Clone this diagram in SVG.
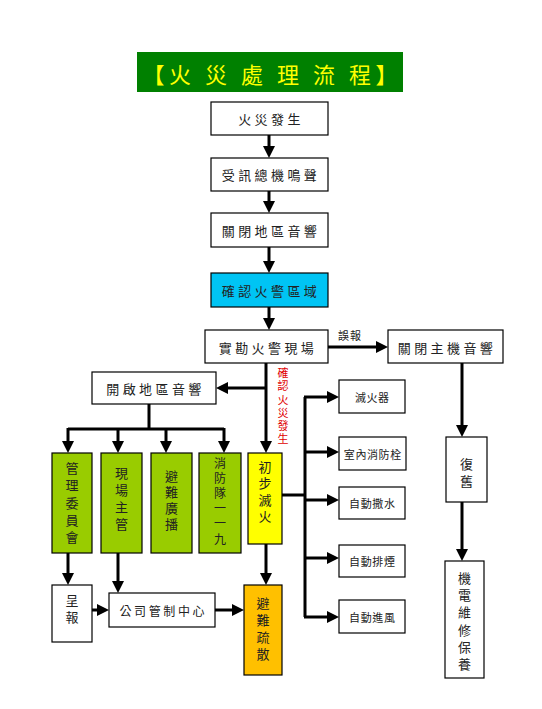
<svg xmlns="http://www.w3.org/2000/svg" width="542" height="709" viewBox="0 0 542 709">
<defs>
<marker id="ah" markerUnits="userSpaceOnUse" markerWidth="12" markerHeight="12" refX="6" refY="6" orient="auto">
<path d="M0,0 L12,6 L0,12 z" fill="#000"/>
</marker>
</defs>
<style>
.box{fill:#fff;stroke:#000;stroke-width:1.2}
.g{fill:#99CC00;stroke:#000;stroke-width:1.2}
.t{font-family:"Noto Sans CJK TC","Noto Sans CJK SC",sans-serif;font-size:13px;fill:#222;text-anchor:middle;dominant-baseline:central;letter-spacing:3.4px}
.s{font-family:"Noto Sans CJK TC","Noto Sans CJK SC",sans-serif;font-size:11px;fill:#222;text-anchor:middle;dominant-baseline:central;letter-spacing:0.6px}
.v{font-family:"Noto Sans CJK TC","Noto Sans CJK SC",sans-serif;font-size:13px;fill:#222;writing-mode:vertical-rl;text-anchor:start;letter-spacing:4px}
.c{fill:none;stroke:#000;stroke-width:3}
.a{fill:none;stroke:#000;stroke-width:3;marker-end:url(#ah)}
</style>
<rect width="542" height="709" fill="#fff"/>
<g id="title">
<rect x="137" y="52" width="266" height="40" fill="#008000"/>
<text x="270" y="73" font-family="Noto Sans CJK TC,Noto Sans CJK SC,sans-serif" font-size="22" fill="#FFFF00" text-anchor="middle" dominant-baseline="central" textLength="255" lengthAdjust="spacing">【火 災 處 理 流 程】</text>
</g>
<g id="connectors">
<path class="a" d="M269,135 V152"/>
<path class="a" d="M269,191 V207"/>
<path class="a" d="M269,247 V267"/>
<path class="a" d="M269,307 V324"/>
<path class="a" d="M328,347 H382"/>
<path class="a" d="M462,363 V431"/>
<path class="a" d="M462,502 V555"/>
<path class="a" d="M266,363 V447"/>
<path class="a" d="M266,388 H222"/>
<path class="c" d="M149,404 V429 M68,429 H224"/>
<path class="a" d="M68,428 V447"/>
<path class="a" d="M118,428 V447"/>
<path class="a" d="M166,428 V447"/>
<path class="a" d="M224,428 V447"/>
<path class="a" d="M68,553 V579"/>
<path class="a" d="M118,553 V587"/>
<path class="a" d="M92,610 H103"/>
<path class="a" d="M215,610 H238"/>
<path class="a" d="M266,544 V579"/>
<path class="c" d="M282,495 H305 M305,397 V617"/>
<path class="a" d="M304,397 H333"/>
<path class="a" d="M304,452 H333"/>
<path class="a" d="M304,500 H333"/>
<path class="a" d="M304,558 H333"/>
<path class="a" d="M304,617 H333"/>
</g>
<g id="label-wubao"><text x="350" y="335" font-family="Noto Sans CJK TC,sans-serif" font-size="11" fill="#222" text-anchor="middle" dominant-baseline="central" letter-spacing="1">誤報</text></g>
<g id="label-confirm"><text class="v" x="283" y="367.5" style="font-size:11px;letter-spacing:2.2px;fill:#E00000">確認火災發生</text></g>
<g id="n1"><rect class="box" x="211" y="102" width="117" height="33"/><text class="t" x="271" y="118.5">火災發生</text></g>
<g id="n2"><rect class="box" x="211" y="158" width="117" height="33"/><text class="t" x="271" y="174.5">受訊總機鳴聲</text></g>
<g id="n3"><rect class="box" x="211" y="213" width="117" height="34"/><text class="t" x="271" y="230">關閉地區音響</text></g>
<g id="n4"><rect x="211" y="273" width="117" height="34" fill="#00C4F4" stroke="#000" stroke-width="1.2"/><text class="t" x="271" y="290">確認火警區域</text></g>
<g id="n5"><rect class="box" x="205" y="330" width="123" height="33"/><text class="t" x="268" y="347">實勘火警現場</text></g>
<g id="n6"><rect class="box" x="388" y="330" width="115" height="33"/><text class="t" x="447" y="347">關閉主機音響</text></g>
<g id="n7"><rect class="box" x="92" y="372" width="124" height="32"/><text class="t" x="155.5" y="388">開啟地區音響</text></g>
<g id="n8"><rect class="g" x="52" y="453" width="40" height="100"/><text class="v" x="72" y="461.5" style="letter-spacing:4.3px">管理委員會</text></g>
<g id="n9"><rect class="g" x="101" y="453" width="41" height="100"/><text class="v" x="121.5" y="466.5">現場主管</text></g>
<g id="n10"><rect class="g" x="151" y="453" width="41" height="100"/><text class="v" x="171.5" y="469.5" style="letter-spacing:3px">避難廣播</text></g>
<g id="n11"><rect class="g" x="199" y="453" width="42" height="100"/><text class="v" x="220" y="457" style="font-size:12px;letter-spacing:3.2px">消防隊一一九</text></g>
<g id="n12"><rect x="248" y="453" width="34" height="91" fill="#FFFF00" stroke="#000" stroke-width="1.2"/><text class="v" x="265" y="460.5" style="letter-spacing:3.3px">初步滅火</text></g>
<g id="n13"><rect class="box" x="339" y="380" width="66" height="33"/><text class="s" x="372.3" y="396.5">滅火器</text></g>
<g id="n14"><rect class="box" x="339" y="437" width="67" height="33"/><text class="s" x="372.8" y="453.5">室內消防栓</text></g>
<g id="n15"><rect class="box" x="339" y="487" width="66" height="32"/><text class="s" x="372.3" y="503">自動撒水</text></g>
<g id="n16"><rect class="box" x="339" y="545" width="66" height="32"/><text class="s" x="372.3" y="561">自動排煙</text></g>
<g id="n17"><rect class="box" x="339" y="600" width="66" height="33"/><text class="s" x="372.3" y="616.5">自動進風</text></g>
<g id="n18"><rect class="box" x="446" y="437" width="41" height="65"/><text class="v" x="466.5" y="457.5">復舊</text></g>
<g id="n19"><rect class="box" x="445" y="561" width="39" height="117"/><text class="v" x="464.5" y="571.5" style="letter-spacing:4.2px">機電維修保養</text></g>
<g id="n20"><rect class="box" x="52" y="585" width="40" height="57"/><text class="v" x="72" y="593.5">呈報</text></g>
<g id="n21"><rect class="box" x="109" y="593" width="106" height="34"/><text class="t" x="163.3" y="610" style="font-size:12px;letter-spacing:2.6px">公司管制中心</text></g>
<g id="n22"><rect x="244" y="585" width="38" height="90" fill="#FFC000" stroke="#000" stroke-width="1.2"/><text class="v" x="263" y="596.5">避難疏散</text></g>
</svg>
